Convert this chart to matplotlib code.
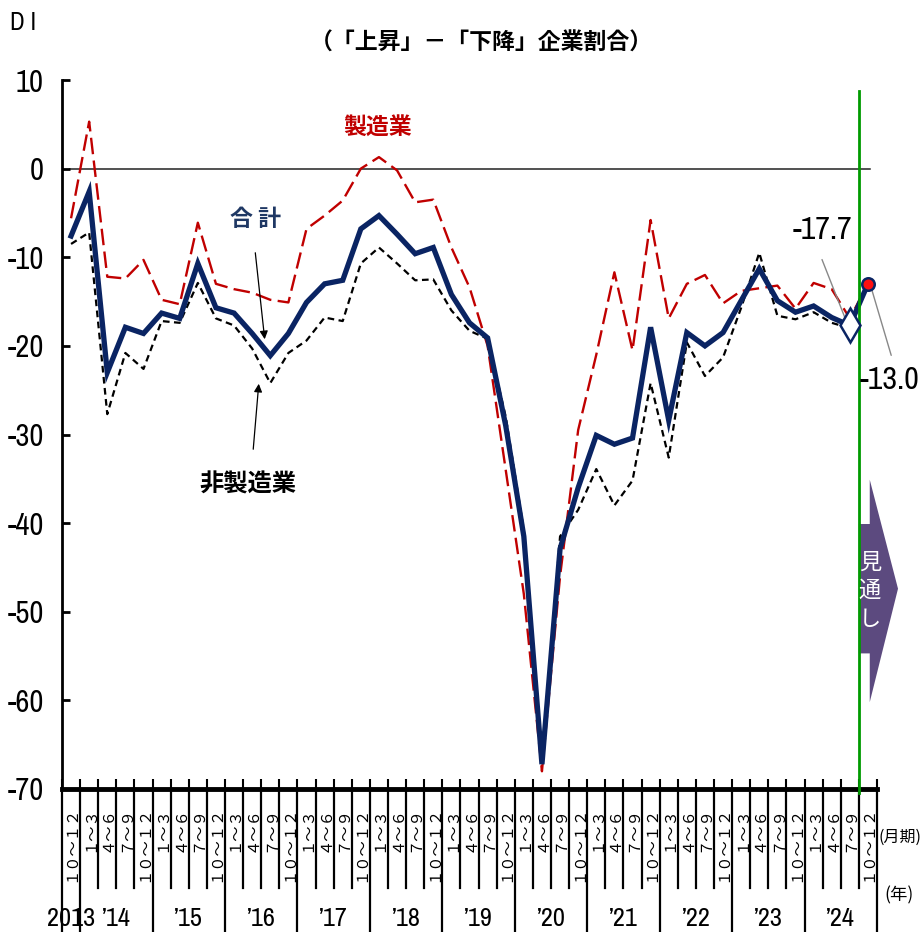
import matplotlib
matplotlib.use("Agg")
import matplotlib.pyplot as plt
from matplotlib import font_manager
from matplotlib.font_manager import FontProperties
from matplotlib.transforms import blended_transform_factory
from matplotlib.patches import Polygon
import numpy as np

# ---------------- data ----------------
quarter_labels = ["１０～１２"] + ["１～３", "４～６", "７～９", "１０～１２"] * 11
year_labels = ["2013", "’14", "’15", "’16", "’17", "’18", "’19", "’20", "’21", "’22", "’23", "’24"]
year_centers = [0, 2.5, 6.5, 10.5, 14.5, 18.5, 22.5, 26.5, 30.5, 34.5, 38.5, 42.5]

total = [-7.6, -2.6, -23.0, -17.9, -18.6, -16.3, -16.9, -10.7, -15.7, -16.3,
         -18.6, -21.1, -18.6, -15.1, -13.0, -12.6, -6.8, -5.3, -7.4, -9.6,
         -8.9, -14.2, -17.4, -19.1, -29.0, -41.5, -67.2, -42.9, -36.0, -30.1,
         -31.1, -30.4, -17.9, -28.4, -18.5, -20.0, -18.5, -14.9, -11.3, -14.9,
         -16.2, -15.5, -16.8, -17.7, -13.0]
manufacturing = [-5.6, 5.3, -12.2, -12.4, -10.3, -14.8, -15.3, -6.1, -13.0, -13.6,
                 -14.0, -14.8, -15.1, -6.8, -5.3, -3.6, 0.0, 1.3, -0.2, -3.8,
                 -3.5, -8.9, -13.4, -20.0, -34.0, -48.0, -68.0, -46.0, -29.5, -21.0,
                 -11.7, -20.5, -5.8, -16.9, -13.0, -12.0, -15.2, -13.8, -13.5, -13.2,
                 -15.8, -12.9, -13.6, -16.9, -13.0]
non_manufacturing = [-8.5, -7.2, -27.7, -20.8, -22.6, -17.2, -17.4, -12.9, -16.9, -17.7,
                     -20.3, -24.2, -20.8, -19.4, -16.8, -17.2, -10.7, -8.9, -10.7, -12.6,
                     -12.5, -16.0, -18.3, -19.2, -28.0, -40.8, -67.0, -41.5, -38.5, -33.9,
                     -38.0, -35.2, -24.2, -32.6, -19.6, -23.4, -21.3, -15.7, -9.5, -16.6,
                     -17.0, -16.2, -17.4, -18.0, -13.0]
ytick_values = [10, 0, -10, -20, -30, -40, -50, -60, -70]
ytick_labels = ["10", "0", "-10", "-20", "-30", "-40", "-50", "-60", "-70"]

# ---------------- fonts ----------------
def pick_narrow():
    best = None
    best_rank = 99
    for f in font_manager.fontManager.ttflist:
        name = f.name
        st = str(f.stretch).lower()
        if str(f.weight) not in ('400', 'normal', 'regular', 'book') and f.weight != 400:
            continue
        if f.style != 'normal':
            continue
        narrow = ('narrow' in name.lower() or 'condensed' in name.lower()
                  or 'condensed' in st or st in ('100', '200', '300', '400'))
        if not narrow:
            continue
        lname = name.lower() + ' ' + f.fname.lower()
        if 'narrow' in lname:
            rank = 0
        elif 'extracondensed' in lname or 'extra-condensed' in st or 'extra' in lname:
            rank = 1
        elif 'roboto' in lname:
            rank = 2
        elif 'condensed' in lname:
            rank = 3
        else:
            rank = 5
        if 'semi' in lname or 'semi' in st:
            rank += 1
        if rank < best_rank:
            best_rank, best = rank, f.fname
    return best

NARROW_FILE = pick_narrow()

def nfont(size):
    if NARROW_FILE:
        return FontProperties(fname=NARROW_FILE, size=size)
    return FontProperties(family='DejaVu Sans', size=size * 0.8)

# ---------------- style ----------------
W, H = 924, 932
JP = ['Noto Sans CJK JP', 'DejaVu Sans']
NAVY = '#0a2463'
RED = '#c00000'

fig = plt.figure(figsize=(W / 100, H / 100), dpi=100)
ax = fig.add_axes([62 / W, 1 - 789 / H, 815 / W, 709 / H])
ax.set_xlim(-0.5, 44.5)
ax.set_ylim(-70, 10)

x = np.arange(len(total))

ax.axhline(0, xmin=0.01, xmax=0.991, color='#222222', lw=1.1, zorder=1)

ax.plot(x, manufacturing, color=RED, lw=1.7, dashes=(7, 2.7), zorder=3)
ax.plot(x, non_manufacturing, color='black', lw=1.6, dashes=(3, 2), zorder=4)
ax.plot(x, total, color=NAVY, lw=3.8, zorder=5, solid_joinstyle='miter')
ax.plot(x[43], total[43], marker='d', ms=17, mfc='white', mec=NAVY, mew=1.8, zorder=8)
ax.plot(x[44], total[44], marker='o', ms=9, mfc='#ff1010', mec=NAVY, mew=1.8, zorder=8)

# spines / ticks
for s in ['top', 'right']:
    ax.spines[s].set_visible(False)
ax.spines['left'].set_linewidth(2)
ax.spines['bottom'].set_linewidth(3.5)
ax.set_yticks(ytick_values)
ax.set_yticklabels(ytick_labels, fontproperties=nfont(22))
ax.tick_params(axis='y', direction='in', length=6, width=2, pad=13)
ax.set_xticks(np.arange(-0.5, 45, 1))
ax.set_xticklabels([])
ax.tick_params(axis='x', direction='in', length=7, width=1.5)

bt = blended_transform_factory(ax.transData, ax.transAxes)
year_bounds = [-0.5] + [0.5 + 4 * k for k in range(11)] + [44.5]
for k in range(46):
    bx = k - 0.5
    ybot = -0.205 if bx in year_bounds else -0.14
    ax.plot([bx, bx], [0, ybot], transform=bt, clip_on=False, color='black', lw=1.6)

for i, lab in enumerate(quarter_labels):
    ax.text(i, -0.024, lab, transform=bt, rotation=90, ha='center', va='top',
            family=JP, fontsize=11)
for c, lab in zip(year_centers, year_labels):
    ax.text(c, -0.182, lab, transform=bt, ha='center', va='center',
            fontproperties=nfont(19))

# forecast marker line & arrow
ax.plot([43.5, 43.5], [-70.4, 8.8], color='#009a00', lw=2, clip_on=False, zorder=6)
arrow = Polygon([(43.5, -40.1), (44.1, -40.1), (44.1, -35.1), (45.66, -47.4),
                 (44.1, -60.2), (44.1, -54.7), (43.5, -54.7)],
                closed=True, facecolor='#5c4a7f', edgecolor='none', clip_on=False, zorder=5)
ax.add_patch(arrow)
ax.text(44.1, -47.6, "見\n通\nし", color='white', fontsize=16, ha='center', va='center',
        linespacing=1.3, family=JP, zorder=7)

# texts
def fp(px, py):
    return px / W, 1 - py / H

fig.text(*fp(10, 22), "D I", fontproperties=nfont(18), ha='left', va='center')
fig.text(*fp(481, 43), "（「上昇」－「下降」企業割合）", family=JP, fontsize=16.5,
         weight='bold', ha='center', va='center')
fig.text(*fp(378, 127), "製造業", family=JP, fontsize=16.5, weight='bold', color=RED,
         ha='center', va='center')
fig.text(*fp(256, 220), "合 計", family=JP, fontsize=16.5, weight='bold', color='#1f3864',
         ha='center', va='center')
fig.text(*fp(248, 485), "非製造業", family=JP, fontsize=17.5, weight='bold', color='black',
         ha='center', va='center')
fig.text(*fp(822, 230), "-17.7", fontproperties=nfont(23), ha='center', va='center')
fig.text(*fp(889, 380), "-13.0", fontproperties=nfont(23), ha='center', va='center')
fig.text(*fp(900, 837), "(月期)", family=JP, fontsize=11.5, ha='center', va='center')
fig.text(*fp(899, 895), "(年)", family=JP, fontsize=12.5, ha='center', va='center')

def fpx(px, py):
    return (px, H - py)

ax.annotate('', xy=fpx(265, 342), xytext=fpx(255, 250), xycoords='figure pixels',
            textcoords='figure pixels',
            arrowprops=dict(arrowstyle='-|>', color='black', lw=0.9, mutation_scale=12))
ax.annotate('', xy=fpx(259, 381), xytext=fpx(253, 452), xycoords='figure pixels',
            textcoords='figure pixels',
            arrowprops=dict(arrowstyle='-|>', color='black', lw=0.9, mutation_scale=12))
ax.annotate('', xy=fpx(847, 323), xytext=fpx(821, 257), xycoords='figure pixels',
            textcoords='figure pixels',
            arrowprops=dict(arrowstyle='-', color='#888888', lw=1))
ax.annotate('', xy=fpx(892, 358), xytext=fpx(871, 287), xycoords='figure pixels',
            textcoords='figure pixels',
            arrowprops=dict(arrowstyle='-', color='#888888', lw=1))

fig.savefig("out.png", dpi=100)
